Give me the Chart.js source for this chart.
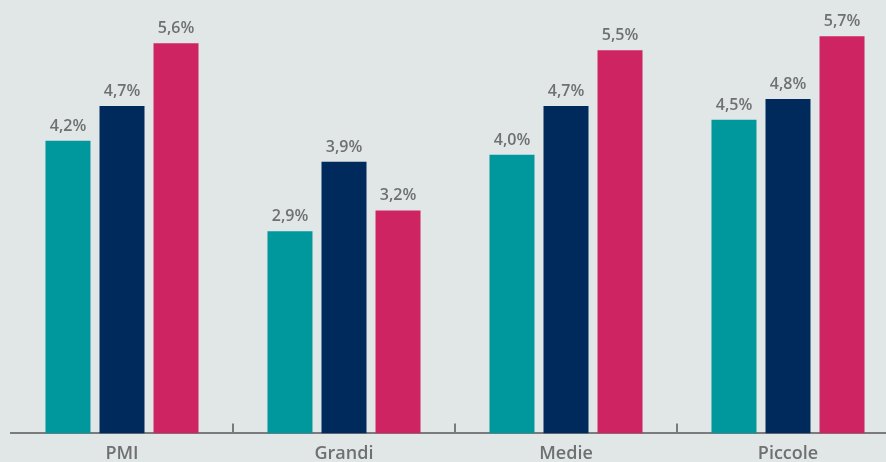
<!DOCTYPE html>
<html lang="it">
<head>
    <meta charset="UTF-8">
    <title>PMI, Grandi, Medie, Piccole</title>
    <script src="https://cdn.jsdelivr.net/npm/chart.js"></script>
    <style>
        html, body { margin: 0; padding: 0; background: #e1e6e6; overflow: hidden; }
        #chart { display: block; }
    </style>
</head>
<body>
    <canvas id="chart" width="899" height="467"></canvas>

    <script>
        const categories = ['PMI', 'Grandi', 'Medie', 'Piccole'];
        const serieA = [4.2, 2.9, 4.0, 4.5];
        const serieB = [4.7, 3.9, 4.7, 4.8];
        const serieC = [5.6, 3.2, 5.5, 5.7];
        const colori = ['#00979d', '#002a5c', '#cf2462'];

        const labelColor = '#6f7071';

        // Values above each bar, written as "4,2%"
        const valueLabels = {
            id: 'valueLabels',
            afterDatasetsDraw(chart) {
                const ctx = chart.ctx;
                ctx.save();
                ctx.font = '600 16px "Open Sans"';
                ctx.fillStyle = labelColor;
                ctx.textAlign = 'center';
                ctx.textBaseline = 'alphabetic';
                chart.data.datasets.forEach((ds, i) => {
                    chart.getDatasetMeta(i).data.forEach((bar, j) => {
                        const txt = ds.data[j].toFixed(1).replace('.', ',') + '%';
                        ctx.fillText(txt, bar.x, bar.y - 10);
                    });
                });
                ctx.restore();
            }
        };

        // Small upward ticks between the groups
        const groupTicks = {
            id: 'groupTicks',
            afterDraw(chart) {
                const x = chart.scales.x;
                const ctx = chart.ctx;
                const step = x.width / categories.length;
                ctx.save();
                ctx.strokeStyle = '#7a7b7c';
                ctx.lineWidth = 2;
                for (let i = 0; i < categories.length - 1; i++) {
                    const px = Math.round(x.getPixelForValue(i) + step / 2);
                    ctx.beginPath();
                    ctx.moveTo(px, x.top);
                    ctx.lineTo(px, x.top - 10);
                    ctx.stroke();
                }
                ctx.restore();
            }
        };

        new Chart(document.getElementById('chart'), {
            type: 'bar',
            data: {
                labels: categories,
                datasets: [
                    { data: serieA, backgroundColor: colori[0] },
                    { data: serieB, backgroundColor: colori[1] },
                    { data: serieC, backgroundColor: colori[2] }
                ]
            },
            options: {
                responsive: false,
                animation: false,
                layout: { padding: { left: 11, right: 0, top: 0, bottom: 0 } },
                datasets: {
                    bar: { categoryPercentage: 0.73, barPercentage: 0.833 }
                },
                plugins: {
                    legend: { display: false },
                    tooltip: { enabled: false }
                },
                scales: {
                    x: {
                        grid: { display: false },
                        border: { display: true, color: '#7a7b7c', width: 2 },
                        ticks: {
                            color: labelColor,
                            padding: 2,
                            font: { family: 'Open Sans', size: 18, weight: '600' }
                        }
                    },
                    y: {
                        display: false,
                        min: 0,
                        max: 6.22
                    }
                }
            },
            plugins: [valueLabels, groupTicks]
        });
    </script>
</body>
</html>
